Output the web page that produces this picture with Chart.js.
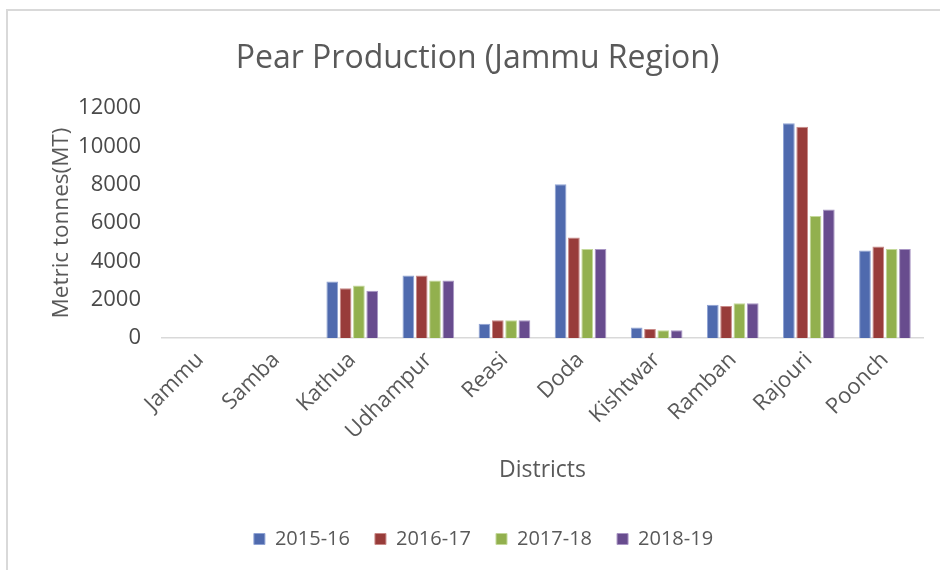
<!DOCTYPE html>
<html>
<head>
<meta charset="utf-8">
<script src="https://cdn.jsdelivr.net/npm/chart.js@4.4.1/dist/chart.umd.min.js"></script>
<style>
  html, body { margin: 0; padding: 0; background: #ffffff; }
  #wrap { position: relative; width: 940px; height: 570px; overflow: hidden; }
  #frame { position: absolute; left: 6px; top: 9px; width: 960px; height: 600px;
           border-left: 2px solid #d9d9d9; border-top: 2px solid #d9d9d9; box-sizing: border-box; }
  canvas { position: absolute; left: 0; top: 0; }
</style>
</head>
<body>
<div id="wrap">
  <div id="frame"></div>
  <canvas id="c" width="940" height="570"></canvas>
</div>
<script>
const chartTitle = "Pear Production (Jammu Region)";
const xAxisTitle = "Districts";
const yAxisTitle = "Metric tonnes(MT)";
const districts = ["Jammu", "Samba", "Kathua", "Udhampur", "Reasi", "Doda", "Kishtwar", "Ramban", "Rajouri", "Poonch"];
const seriesNames = ["2015-16", "2016-17", "2017-18", "2018-19"];
const values2015_16 = [0, 0, 2950, 3260, 740, 8020, 545, 1740, 11210, 4560];
const values2016_17 = [0, 0, 2600, 3260, 930, 5250, 475, 1665, 11020, 4770];
const values2017_18 = [0, 0, 2740, 3000, 930, 4650, 400, 1810, 6370, 4650];
const values2018_19 = [0, 0, 2460, 3000, 930, 4650, 400, 1810, 6700, 4650];
const yTicks = [0, 2000, 4000, 6000, 8000, 10000, 12000];

const fillColors = ["#4f6aae", "#983c3a", "#92b04e", "#684c8e"];
const edgeColors = ["#8fa3d4", "#c98a88", "#c4d99a", "#a996c4"];
const seriesValues = [values2015_16, values2016_17, values2017_18, values2018_19];

const FONT = "'Open Sans', 'Liberation Sans', sans-serif";
const TXT = "#595959";

const boxShift = {
  id: 'boxShift',
  afterLayout(chart) {
    const lg = chart.legend;
    if (lg) { lg.left += 18; lg.right += 18; }
    const tb = chart.titleBlock;
    if (tb) { tb.left += 12; tb.right += 12; }
  }
};

new Chart(document.getElementById('c'), {
  type: 'bar',
  data: {
    labels: districts,
    datasets: seriesNames.map((name, i) => ({
      label: name,
      data: seriesValues[i],
      backgroundColor: fillColors[i],
      borderColor: edgeColors[i],
      borderWidth: 1,
      categoryPercentage: 0.70,
      barPercentage: 0.88
    }))
  },
  plugins: [boxShift],
  options: {
    responsive: false,
    animation: false,
    devicePixelRatio: 1,
    layout: { padding: { left: 8, right: 17, top: 0, bottom: 11 } },
    plugins: {
      title: {
        display: true,
        text: chartTitle,
        color: TXT,
        font: { family: FONT, size: 32, weight: 'normal' },
        padding: { top: 40, bottom: 29.6 }
      },
      legend: {
        position: 'bottom',
        labels: {
          color: TXT,
          font: { family: FONT, size: 20 },
          boxWidth: 11,
          boxHeight: 11,
          padding: 25
        }
      },
      tooltip: { enabled: false }
    },
    scales: {
      x: {
        grid: { display: false, drawTicks: false },
        border: { display: true, color: '#d9d9d9', width: 1.5 },
        ticks: {
          color: TXT,
          font: { family: FONT, size: 22 },
          minRotation: 45,
          maxRotation: 45,
          autoSkip: false,
          padding: 9
        },
        title: {
          display: true,
          text: xAxisTitle,
          color: TXT,
          font: { family: FONT, size: 23 },
          padding: { top: 0, bottom: 20 }
        },
        afterFit: (s) => { s.height = 166; }
      },
      y: {
        min: 0,
        max: 12000,
        grid: { display: false, drawTicks: false },
        border: { display: false },
        afterBuildTicks: (s) => { s.ticks = yTicks.map(v => ({ value: v })); },
        ticks: {
          color: '#4a4a4a',
          font: { family: FONT, size: 22 },
          padding: 21,
          callback: (v) => String(v)
        },
        title: {
          display: true,
          text: yAxisTitle,
          color: TXT,
          font: { family: FONT, size: 22.5 },
          padding: { top: 40, bottom: 0 }
        },
        afterFit: (s) => { s.width = 154; }
      }
    }
  }
});
</script>
</body>
</html>
